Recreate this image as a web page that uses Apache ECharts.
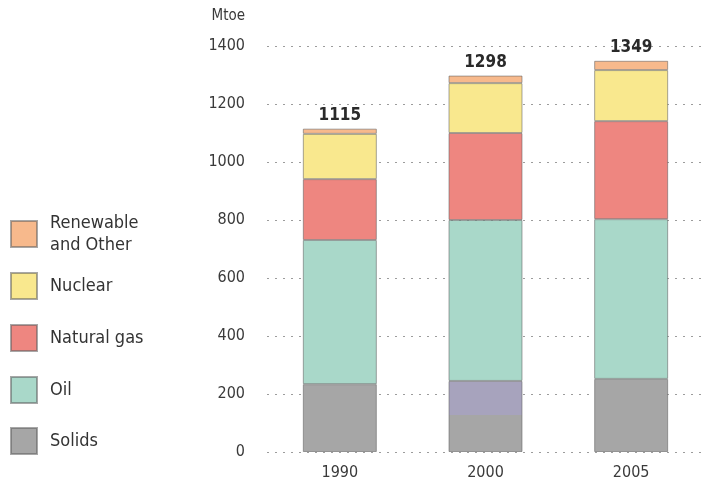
<!DOCTYPE html>
<html>
<head>
<meta charset="utf-8">
<script src="https://cdn.jsdelivr.net/npm/echarts@6/dist/echarts.min.js"></script>
<style>
  html, body { margin: 0; padding: 0; background: #ffffff; }
  #chart { width: 704px; height: 487px; }
</style>
</head>
<body>
<div id="chart"></div>
<script>
// Gross inland energy consumption by fuel, Mtoe
const years = ['1990', '2000', '2005'];
const solids = [234, 245, 252];
const oil = [497, 555, 551];
const naturalGas = [210, 300, 338];
const nuclear = [156, 172, 176];
const renewable = [18, 26, 32];
const yTicks = [0, 200, 400, 600, 800, 1000, 1200, 1400];

const FONT = '"DejaVu Sans Condensed", "DejaVu Sans", sans-serif';

const totals = years.map((_, i) =>
  solids[i] + oil[i] + naturalGas[i] + nuclear[i] + renewable[i]);

const colors = {
  'Renewable\nand Other': '#f7b98c',
  'Nuclear': '#f9e88e',
  'Natural gas': '#ee8680',
  'Oil': '#a9d8c9',
  'Solids': '#a6a6a6'
};

const border = { borderColor: 'rgba(95,95,95,0.55)', borderWidth: 1 };

function seg(name, data, extra) {
  return Object.assign({
    name: name,
    type: 'bar',
    stack: 'total',
    barWidth: 74,
    data: data,
    itemStyle: Object.assign({ color: colors[name] }, border)
  }, extra || {});
}

// the 2000 solids block is split into a grey base and a lavender upper part
const solidsData = solids.map((v, i) => {
  if (years[i] !== '2000') return v;
  const split = 1 - 128 / v;
  return {
    value: v,
    itemStyle: {
      color: new echarts.graphic.LinearGradient(0, 0, 0, 1, [
        { offset: 0, color: '#a7a3bd' },
        { offset: split, color: '#a7a3bd' },
        { offset: split, color: '#a6a6a6' },
        { offset: 1, color: '#a6a6a6' }
      ])
    }
  };
});

// one legend block per fuel so each row sits at its own height
const legendOrder = ['Renewable\nand Other', 'Nuclear', 'Natural gas', 'Oil', 'Solids'];
const legendTops = [212, 272, 324, 376, 427];

const chart = echarts.init(document.getElementById('chart'), null, { renderer: 'canvas' });

chart.setOption({
  animation: false,
  backgroundColor: '#ffffff',
  textStyle: { fontFamily: FONT },
  legend: legendOrder.map((name, i) => ({
    data: [name],
    orient: 'vertical',
    left: 10,
    top: legendTops[i],
    padding: 0,
    itemWidth: 26,
    itemHeight: 26,
    itemGap: 0,
    selectedMode: false,
    icon: 'rect',
    textStyle: { fontFamily: FONT, fontSize: 18, color: '#333333', lineHeight: 22, padding: [0, 0, 0, 8] }
  })),
  grid: { left: 267, right: -1, top: 46, bottom: 35, containLabel: false },
  xAxis: {
    type: 'category',
    data: years,
    axisLine: { show: false },
    axisTick: { show: false },
    axisLabel: { fontFamily: FONT, fontSize: 16, color: '#3a3a3a', margin: 13 }
  },
  yAxis: {
    type: 'value',
    name: 'Mtoe',
    nameLocation: 'end',
    nameGap: 22,
    nameTextStyle: { fontFamily: FONT, fontSize: 15, color: '#3a3a3a', align: 'right', padding: [0, 22, 0, 0] },
    min: yTicks[0],
    max: yTicks[yTicks.length - 1],
    interval: 200,
    axisLine: { show: false },
    axisTick: { show: false },
    axisLabel: { fontFamily: FONT, fontSize: 16, color: '#3a3a3a', margin: 22, formatter: v => String(v) },
    splitLine: { lineStyle: { color: '#9c9c9c', width: 1, type: [2, 6] } }
  },
  series: [
    seg('Solids', solidsData),
    seg('Oil', oil),
    seg('Natural gas', naturalGas),
    seg('Nuclear', nuclear),
    seg('Renewable\nand Other', renewable, {
      label: {
        show: true,
        position: 'top',
        distance: 5,
        fontFamily: FONT,
        fontSize: 17,
        fontWeight: 'bold',
        color: '#2a2a2a',
        formatter: p => String(totals[p.dataIndex])
      }
    })
  ]
});
</script>
</body>
</html>
